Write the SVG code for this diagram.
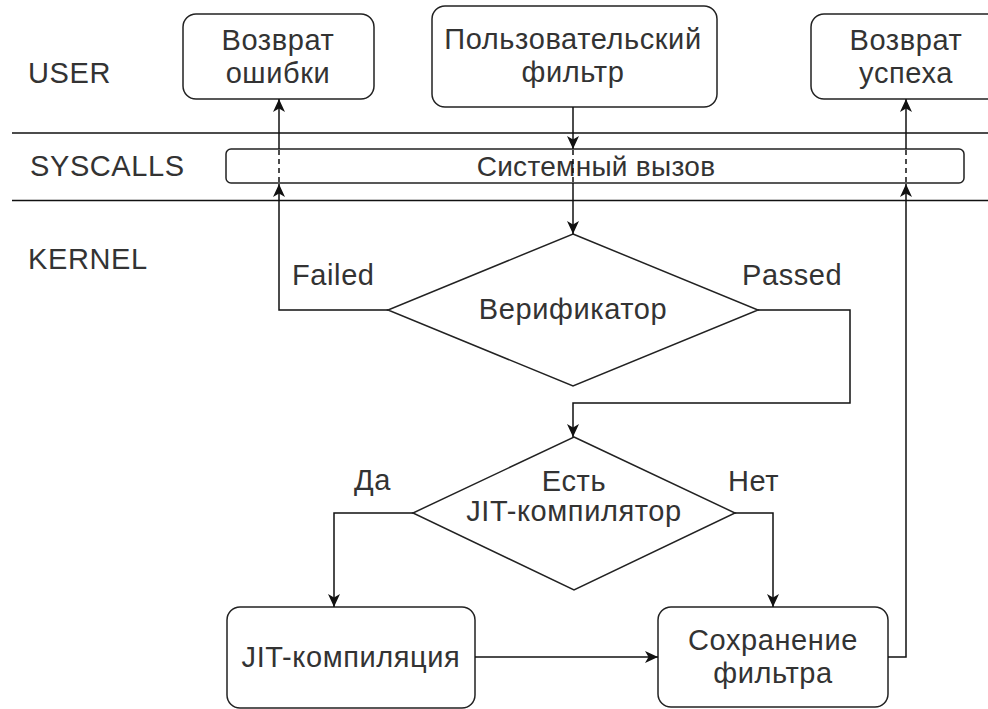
<svg xmlns="http://www.w3.org/2000/svg" width="988" height="709" viewBox="0 0 988 709">
<style>
text{font-family:"Liberation Sans",Arial,sans-serif;font-size:29px;fill:#333;letter-spacing:0.6px}
.c{text-anchor:middle}
.box{fill:#fff;stroke:#222;stroke-width:1.5}
.ln{fill:none;stroke:#111;stroke-width:1.5}
.dash{fill:none;stroke:#111;stroke-width:1.5;stroke-dasharray:5 4}
</style>
<defs>
<marker id="ah" viewBox="0 0 13 12" refX="13" refY="6" markerWidth="13" markerHeight="12" markerUnits="userSpaceOnUse" orient="auto">
<path d="M0,0 L13,6 L0,12 L3.5,6 Z" fill="#111"/>
</marker>
</defs>
<rect width="988" height="709" fill="#fff"/>
<g id="lanes">
<line x1="12" y1="133" x2="988" y2="133" class="ln"/>
<line x1="12" y1="200.5" x2="988" y2="200.5" class="ln"/>
<text x="28" y="83">USER</text>
<text x="30" y="176">SYSCALLS</text>
<text x="28" y="269">KERNEL</text>
</g>
<g id="err">
<rect x="183" y="14" width="191" height="85" rx="13" class="box"/>
<text x="278" y="50" class="c">Возврат</text>
<text x="278" y="83" class="c">ошибки</text>
</g>
<g id="filter">
<rect x="432" y="6" width="285" height="101" rx="13" class="box"/>
<text x="573" y="49" class="c">Пользовательский</text>
<text x="573" y="82" class="c">фильтр</text>
</g>
<g id="ok">
<rect x="811" y="14" width="190" height="85" rx="13" class="box"/>
<text x="906" y="50" class="c">Возврат</text>
<text x="906" y="83" class="c">успеха</text>
</g>
<g id="syscall">
<rect x="226" y="149" width="738" height="34" rx="5" class="box"/>
<text x="596" y="176" class="c" style="font-size:28px;letter-spacing:0.3px">Системный вызов</text>
</g>
<g id="verifier">
<polygon points="573,234 758,310 573,386 388,310" class="box"/>
<text x="573" y="319" class="c">Верификатор</text>
</g>
<g id="hasjit">
<polygon points="574,437 735,513 574,590 413,513" class="box"/>
<text x="574" y="491" class="c">Есть</text>
<text x="574" y="521" class="c">JIT-компилятор</text>
</g>
<g id="jit">
<rect x="227" y="607" width="248" height="101" rx="13" class="box"/>
<text x="351" y="667" class="c">JIT-компиляция</text>
</g>
<g id="save">
<rect x="658" y="607" width="230" height="100" rx="13" class="box"/>
<text x="773" y="650" class="c">Сохранение</text>
<text x="773" y="683" class="c">фильтра</text>
</g>
<g id="connectors">
<path d="M573,107 V149" class="ln" marker-end="url(#ah)"/>
<path d="M573,150 V183" class="dash"/>
<path d="M573,183 V234" class="ln" marker-end="url(#ah)"/>
<path d="M388,310 H279 V184" class="ln" marker-end="url(#ah)"/>
<path d="M279,150 V183" class="dash"/>
<path d="M279,149 V99" class="ln" marker-end="url(#ah)"/>
<path d="M758,310 H850 V403 H573 V437" class="ln" marker-end="url(#ah)"/>
<path d="M413,513 H334 V607" class="ln" marker-end="url(#ah)"/>
<path d="M735,513 H773 V607" class="ln" marker-end="url(#ah)"/>
<path d="M475,657 H658" class="ln" marker-end="url(#ah)"/>
<path d="M888,657 H906 V184" class="ln" marker-end="url(#ah)"/>
<path d="M906,150 V183" class="dash"/>
<path d="M906,149 V99" class="ln" marker-end="url(#ah)"/>
<text x="292" y="285">Failed</text>
<text x="742" y="285">Passed</text>
<text x="354" y="490">Да</text>
<text x="728" y="491">Нет</text>
</g>
</svg>
